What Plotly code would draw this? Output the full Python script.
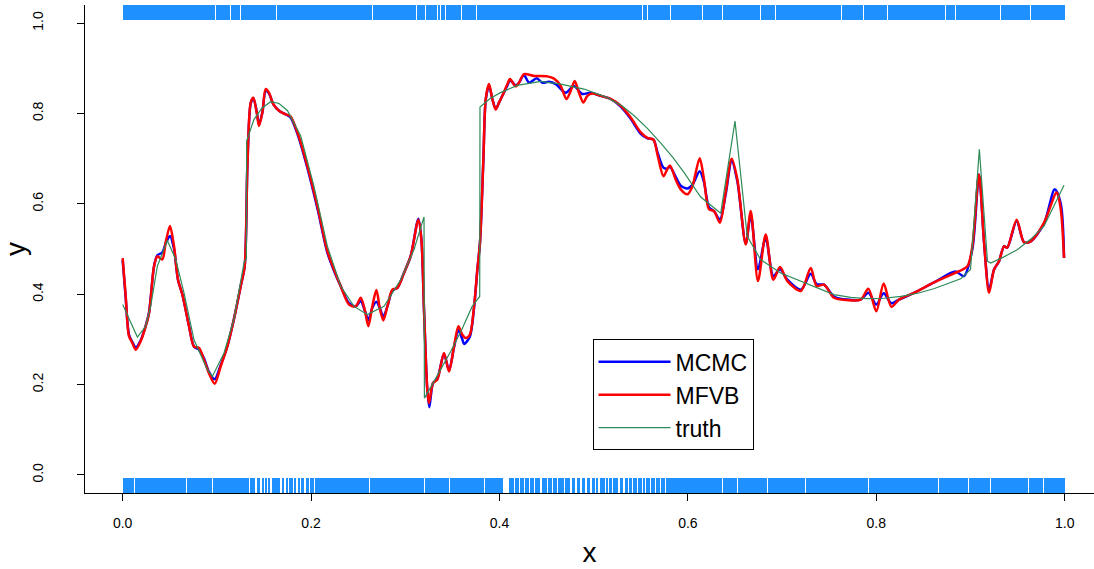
import plotly.graph_objects as go

# ---------------- data ----------------
X_MFVB = [0.000, 0.0032, 0.0067, 0.0103, 0.0138, 0.0191, 0.0244, 0.028, 0.0333, 0.0368,
          0.0421, 0.0456, 0.0502, 0.0545, 0.0587, 0.0634, 0.0704, 0.0757, 0.081, 0.0863,
          0.0916, 0.0977, 0.104, 0.111, 0.118, 0.1253, 0.1295, 0.1324, 0.1359, 0.1387,
          0.1423, 0.1447, 0.1483, 0.1518, 0.1553, 0.160, 0.166, 0.173, 0.178, 0.1855,
          0.196, 0.2067, 0.2173, 0.2243, 0.2314, 0.2403, 0.2473, 0.2527, 0.2569, 0.2608,
          0.265, 0.2693, 0.2732, 0.2767, 0.281, 0.2863, 0.2916, 0.2986, 0.3057, 0.3139,
          0.3171, 0.320, 0.3234, 0.3252, 0.3294, 0.334, 0.3411, 0.3464, 0.3517, 0.3564,
          0.3606, 0.3641, 0.3684, 0.373, 0.3765, 0.3793, 0.3829, 0.3854, 0.3889, 0.3924,
          0.396, 0.3995, 0.403, 0.4084, 0.4112, 0.4172, 0.4207, 0.426, 0.4367, 0.4508,
          0.4579, 0.465, 0.471, 0.4756, 0.4798, 0.4844, 0.489, 0.4933, 0.4986, 0.5074,
          0.518, 0.5287, 0.5393, 0.550, 0.557, 0.5634, 0.568, 0.574, 0.578, 0.581,
          0.587, 0.5924, 0.5995, 0.6048, 0.6125, 0.6171, 0.6224, 0.6277, 0.634, 0.640,
          0.6465, 0.6525, 0.6614, 0.6667, 0.6744, 0.6826, 0.6907, 0.6978, 0.7056, 0.720,
          0.7304, 0.7367, 0.7445, 0.755, 0.769, 0.7834, 0.7916, 0.800, 0.8078, 0.816,
          0.8241, 0.840, 0.8613, 0.8825, 0.8967, 0.902, 0.909, 0.9144, 0.9197, 0.925,
          0.9303, 0.9356, 0.939, 0.949, 0.9568, 0.9639, 0.978, 0.9915, 0.9958, 0.9993]
Y_MFVB = [0.480, 0.395, 0.307, 0.292, 0.277, 0.296, 0.329, 0.358, 0.462, 0.484,
          0.477, 0.514, 0.551, 0.506, 0.432, 0.399, 0.329, 0.284, 0.281, 0.255,
          0.225, 0.202, 0.240, 0.284, 0.344, 0.418, 0.462, 0.684, 0.824, 0.835,
          0.802, 0.772, 0.802, 0.854, 0.846, 0.820, 0.806, 0.798, 0.794, 0.758,
          0.684, 0.595, 0.495, 0.4545, 0.418, 0.377, 0.373, 0.392, 0.366, 0.329,
          0.373, 0.409, 0.366, 0.342, 0.373, 0.410, 0.414, 0.447, 0.484, 0.565,
          0.521, 0.358, 0.188, 0.159, 0.203, 0.211, 0.270, 0.229, 0.284, 0.329,
          0.310, 0.303, 0.310, 0.373, 0.4545, 0.514, 0.698, 0.832, 0.865, 0.832,
          0.809, 0.824, 0.839, 0.865, 0.876, 0.860, 0.868, 0.887, 0.883, 0.882,
          0.877, 0.861, 0.832, 0.850, 0.872, 0.846, 0.824, 0.839, 0.844, 0.839,
          0.832, 0.817, 0.791, 0.758, 0.746, 0.742, 0.706, 0.661, 0.676, 0.685,
          0.654, 0.632, 0.621, 0.639, 0.701, 0.654, 0.588, 0.584, 0.558, 0.625,
          0.700, 0.654, 0.510, 0.584, 0.429, 0.532, 0.432, 0.460, 0.429, 0.407,
          0.458, 0.418, 0.421, 0.392, 0.387, 0.388, 0.412, 0.362, 0.4235, 0.372,
          0.388, 0.403, 0.426, 0.446, 0.462, 0.506, 0.665, 0.514, 0.403, 0.4545,
          0.473, 0.506, 0.503, 0.565, 0.515, 0.517, 0.558, 0.625, 0.588, 0.480]

X_MCMC = [0.000, 0.0032, 0.0067, 0.0103, 0.0138, 0.0191, 0.0244, 0.028, 0.0333, 0.0368,
          0.0421, 0.0456, 0.0502, 0.0545, 0.0587, 0.0634, 0.0704, 0.0757, 0.081, 0.0863,
          0.0916, 0.0977, 0.104, 0.111, 0.118, 0.1253, 0.1295, 0.1324, 0.1359, 0.1387,
          0.1423, 0.1447, 0.1483, 0.1518, 0.1553, 0.160, 0.166, 0.173, 0.178, 0.1855,
          0.196, 0.2067, 0.2173, 0.2243, 0.2314, 0.2403, 0.2473, 0.2527, 0.2569, 0.2608,
          0.265, 0.2693, 0.2732, 0.2767, 0.281, 0.2863, 0.2916, 0.2986, 0.3057, 0.3139,
          0.3171, 0.320, 0.3234, 0.3255, 0.3294, 0.334, 0.3411, 0.3464, 0.3517, 0.3564,
          0.3606, 0.3623, 0.3684, 0.373, 0.3765, 0.3793, 0.3829, 0.3854, 0.3889, 0.3924,
          0.396, 0.3995, 0.403, 0.4084, 0.4112, 0.4172, 0.4207, 0.426, 0.4314, 0.4395,
          0.4455, 0.4526, 0.4597, 0.4703, 0.479, 0.4879, 0.4968, 0.5074,
          0.518, 0.5287, 0.5393, 0.550, 0.557, 0.5634, 0.568, 0.574, 0.578, 0.581,
          0.587, 0.5924, 0.5995, 0.6048, 0.6125, 0.6171, 0.6224, 0.6277, 0.634, 0.640,
          0.6465, 0.6525, 0.6614, 0.6667, 0.6744, 0.6826, 0.6907, 0.6978, 0.7056, 0.720,
          0.7304, 0.7367, 0.7445, 0.755, 0.769, 0.7834, 0.7916, 0.800, 0.8078, 0.816,
          0.8241, 0.840, 0.8613, 0.8840, 0.8930, 0.902, 0.909, 0.9144, 0.9197, 0.925,
          0.9303, 0.9356, 0.939, 0.949, 0.9568, 0.9639, 0.978, 0.9894, 0.9958, 0.9993]
Y_MCMC = [0.475, 0.392, 0.310, 0.294, 0.282, 0.298, 0.330, 0.360, 0.462, 0.486,
          0.492, 0.512, 0.529, 0.500, 0.432, 0.399, 0.330, 0.284, 0.277, 0.258,
          0.228, 0.212, 0.243, 0.284, 0.344, 0.418, 0.462, 0.684, 0.822, 0.834,
          0.804, 0.776, 0.802, 0.850, 0.844, 0.820, 0.806, 0.798, 0.792, 0.755,
          0.680, 0.590, 0.492, 0.452, 0.418, 0.380, 0.373, 0.385, 0.364, 0.343,
          0.370, 0.383, 0.368, 0.350, 0.373, 0.408, 0.414, 0.447, 0.484, 0.567,
          0.521, 0.358, 0.188, 0.150, 0.203, 0.213, 0.268, 0.231, 0.282, 0.320,
          0.300, 0.290, 0.305, 0.370, 0.4545, 0.514, 0.698, 0.830, 0.862, 0.832,
          0.810, 0.824, 0.839, 0.862, 0.874, 0.862, 0.868, 0.885, 0.868, 0.878,
          0.868, 0.870, 0.865, 0.846, 0.861, 0.843, 0.846, 0.839,
          0.832, 0.815, 0.788, 0.755, 0.745, 0.742, 0.712, 0.680, 0.678, 0.682,
          0.660, 0.640, 0.634, 0.642, 0.672, 0.648, 0.592, 0.584, 0.565, 0.620,
          0.695, 0.650, 0.512, 0.575, 0.455, 0.525, 0.440, 0.455, 0.432, 0.410,
          0.445, 0.422, 0.421, 0.395, 0.388, 0.388, 0.403, 0.377, 0.402, 0.380,
          0.388, 0.403, 0.426, 0.450, 0.440, 0.500, 0.665, 0.514, 0.410, 0.4545,
          0.473, 0.506, 0.503, 0.562, 0.515, 0.517, 0.556, 0.632, 0.600, 0.480]

X_TRUTH = [0.000, 0.0156, 0.0244, 0.0297, 0.0368, 0.0474, 0.0563, 0.0651, 0.0757, 0.0899,
           0.0952, 0.1076, 0.118, 0.1288, 0.1313, 0.1316, 0.1394, 0.148, 0.157, 0.166,
           0.175, 0.189, 0.203, 0.2173, 0.2314, 0.2455, 0.2597, 0.2774, 0.2951, 0.3093,
           0.3199, 0.3203, 0.3305, 0.3482, 0.360, 0.371, 0.3790, 0.3793, 0.390, 0.401,
           0.419, 0.4437, 0.465, 0.4897, 0.5145, 0.530, 0.543, 0.557, 0.571, 0.584,
           0.596, 0.6136, 0.6348, 0.650, 0.663, 0.677, 0.6985, 0.7197, 0.737, 0.755,
           0.773, 0.7905, 0.808, 0.826, 0.844, 0.861, 0.8896, 0.900, 0.9094, 0.918,
           0.9214, 0.935, 0.950, 0.964, 0.978, 0.9993]
Y_TRUTH = [0.377, 0.305, 0.329, 0.373, 0.462, 0.519, 0.477, 0.403, 0.299, 0.233,
           0.218, 0.270, 0.344, 0.469, 0.480, 0.739, 0.787, 0.812, 0.826, 0.822,
           0.806, 0.750, 0.639, 0.506, 0.418, 0.373, 0.355, 0.373, 0.432, 0.499,
           0.571, 0.170, 0.207, 0.273, 0.322, 0.373, 0.395, 0.814, 0.833, 0.846,
           0.862, 0.871, 0.865, 0.854, 0.835, 0.817, 0.795, 0.767, 0.735, 0.703,
           0.669, 0.615, 0.579, 0.783, 0.528, 0.477, 0.447, 0.429, 0.413, 0.399,
           0.393, 0.390, 0.391, 0.395, 0.402, 0.412, 0.434, 0.4545, 0.7206, 0.473,
           0.469, 0.482, 0.499, 0.522, 0.5506, 0.641]

# rug: white gaps (centre, width) inside dense bands of ticks on [0, 1]
RUG_TOP_GAPS = [(0.0906, 0.0009), (0.0962, 0.0009), (0.0987, 0.0009), (0.1121, 0.0009),
                (0.1146, 0.0009), (0.1252, 0.0009), (0.1630, 0.0009), (0.1918, 0.0009),
                (0.1932, 0.0009), (0.2654, 0.0009), (0.2675, 0.0009), (0.3121, 0.0009),
                (0.3217, 0.0009), (0.3305, 0.0009), (0.3340, 0.0009), (0.3376, 0.0009),
                (0.3429, 0.0009), (0.3475, 0.0009), (0.3507, 0.0009), (0.3597, 0.0020),
                (0.3730, 0.0009), (0.3758, 0.0009), (0.3783, 0.0009), (0.5517, 0.0009),
                (0.5570, 0.0009), (0.5817, 0.0009), (0.6154, 0.0009), (0.6366, 0.0009),
                (0.6543, 0.0009), (0.6773, 0.0009), (0.6932, 0.0009), (0.7233, 0.0009),
                (0.7445, 0.0009), (0.7630, 0.0009), (0.7862, 0.0009), (0.8117, 0.0009),
                (0.8666, 0.0009), (0.8737, 0.0009), (0.8843, 0.0009), (0.9321, 0.0009),
                (0.9640, 0.0009), (0.9780, 0.0009)]
RUG_BOTTOM_GAPS = [(0.0127, 0.0009), (0.0386, 0.0009), (0.0679, 0.0009), (0.0715, 0.0009),
                   (0.0768, 0.0009), (0.0952, 0.0009), (0.1323, 0.0012), (0.1348, 0.0012),
                   (0.1415, 0.0012), (0.1468, 0.0012), (0.1510, 0.0012), (0.1539, 0.0012),
                   (0.1574, 0.0012), (0.1680, 0.0012), (0.1723, 0.0012), (0.1762, 0.0012),
                   (0.1787, 0.0012), (0.1815, 0.0012), (0.1850, 0.0012), (0.1886, 0.0012),
                   (0.1935, 0.0012), (0.1981, 0.0012), (0.2034, 0.0012), (0.2370, 0.0009),
                   (0.2618, 0.0009), (0.3202, 0.0009), (0.3468, 0.0009), (0.3698, 0.0009),
                   (0.3804, 0.0009), (0.3840, 0.0009), (0.4070, 0.0060), (0.4157, 0.0014),
                   (0.4210, 0.0014), (0.4264, 0.0014), (0.4317, 0.0014), (0.4370, 0.0014),
                   (0.4440, 0.0014), (0.4510, 0.0014), (0.4565, 0.0014), (0.4618, 0.0014),
                   (0.4688, 0.0014), (0.4759, 0.0014), (0.4812, 0.0014), (0.4865, 0.0014),
                   (0.4918, 0.0014), (0.4971, 0.0014), (0.5024, 0.0014), (0.5057, 0.0014),
                   (0.5127, 0.0014), (0.5163, 0.0014), (0.5198, 0.0014), (0.5269, 0.0014),
                   (0.5322, 0.0014), (0.5375, 0.0014), (0.5410, 0.0014), (0.5463, 0.0014),
                   (0.5517, 0.0014), (0.5552, 0.0014), (0.5605, 0.0014), (0.5658, 0.0014),
                   (0.5711, 0.0014), (0.5764, 0.0014), (0.6366, 0.0009), (0.6525, 0.0009),
                   (0.6844, 0.0009), (0.7127, 0.0009), (0.7251, 0.0009), (0.7919, 0.0009),
                   (0.8326, 0.0009), (0.8662, 0.0009), (0.8981, 0.0009), (0.9211, 0.0009),
                   (0.9618, 0.0009), (0.9777, 0.0009)]
RUG_RANGE = (0.0, 1.0)
RUG_LEN = 0.0324  # R rug ticksize (3% of plot height) in y units

X_TICKS = [0.0, 0.2, 0.4, 0.6, 0.8, 1.0]
X_TICK_TEXT = ["0.0", "0.2", "0.4", "0.6", "0.8", "1.0"]
Y_TICKS = [0.0, 0.2, 0.4, 0.6, 0.8, 1.0]
Y_TICK_TEXT = ["0.0", "0.2", "0.4", "0.6", "0.8", "1.0"]
X_RANGE = [-0.04, 1.0311]
Y_RANGE = [-0.04, 1.04]

RUG_COLOR = "#1E90FF"
MCMC_COLOR = "#0000FF"
MFVB_COLOR = "#FF0000"
TRUTH_COLOR = "#2E8B57"
FONT = "Liberation Sans, Arial, sans-serif"


def rug_segments(gaps, lo, hi):
    segs = []
    start = lo
    for c, w in sorted(gaps):
        a, b = c - w / 2, c + w / 2
        if a > start:
            segs.append((start, a))
        start = max(start, b)
    if start < hi:
        segs.append((start, hi))
    return segs


fig = go.Figure()

for gaps, base in ((RUG_TOP_GAPS, Y_RANGE[1] - RUG_LEN), (RUG_BOTTOM_GAPS, Y_RANGE[0])):
    segs = rug_segments(gaps, *RUG_RANGE)
    fig.add_trace(go.Bar(
        x=[(a + b) / 2 for a, b in segs],
        width=[b - a for a, b in segs],
        y=[RUG_LEN] * len(segs),
        base=[base] * len(segs),
        marker=dict(color=RUG_COLOR, line=dict(width=0)),
        showlegend=False, hoverinfo="skip",
    ))

fig.add_trace(go.Scatter(x=X_MCMC, y=Y_MCMC, mode="lines", name="MCMC",
                         line=dict(color=MCMC_COLOR, width=2.5, shape="spline", smoothing=0.8)))
fig.add_trace(go.Scatter(x=X_MFVB, y=Y_MFVB, mode="lines", name="MFVB",
                         line=dict(color=MFVB_COLOR, width=2.5, shape="spline", smoothing=0.8)))
fig.add_trace(go.Scatter(x=X_TRUTH, y=Y_TRUTH, mode="lines", name="truth",
                         line=dict(color=TRUTH_COLOR, width=1.2)))

axis_common = dict(
    showgrid=False, zeroline=False, showline=True, linecolor="black", linewidth=1,
    ticks="outside", ticklen=7, tickcolor="black", tickwidth=1,
    tickfont=dict(family=FONT, size=14, color="black"),
)

fig.update_layout(
    width=1094, height=569,
    margin=dict(l=85, r=0, t=5, b=76),
    paper_bgcolor="white", plot_bgcolor="white",
    barmode="overlay", bargap=0,
    font=dict(family=FONT, color="black"),
    xaxis=dict(range=X_RANGE, tickvals=X_TICKS, ticktext=X_TICK_TEXT,
               ticklabelstandoff=10,
               title=dict(text="x", font=dict(family=FONT, size=28), standoff=12),
               **axis_common),
    yaxis=dict(range=Y_RANGE, tickvals=Y_TICKS, ticktext=Y_TICK_TEXT, tickangle=-90,
               ticklabelstandoff=28,
               title=dict(text="y", font=dict(family=FONT, size=28), standoff=10),
               **axis_common),
    legend=dict(x=0.503, y=0.315, xanchor="left", yanchor="top",
                bordercolor="black", borderwidth=1, bgcolor="white",
                font=dict(family=FONT, size=23, color="black"),
                itemwidth=72, tracegroupgap=0),
)

fig.write_html("out.html")
